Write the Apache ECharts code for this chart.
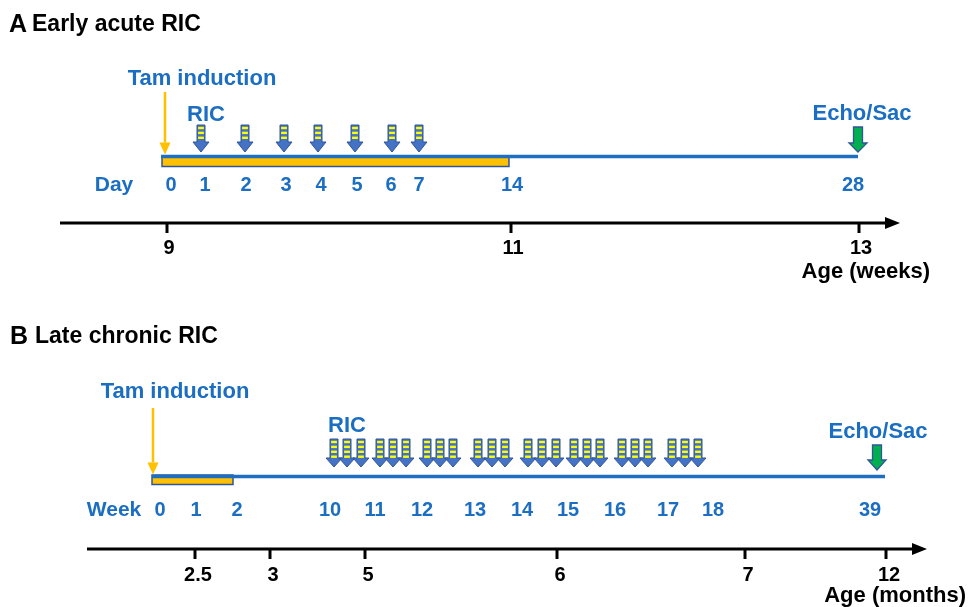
<!DOCTYPE html>
<html>
<head>
<meta charset="utf-8">
<script src="https://cdn.jsdelivr.net/npm/echarts/dist/echarts.min.js"></script>
<style>
html,body{margin:0;padding:0;background:#fff;}
#c{width:972px;height:607px;}
</style>
</head>
<body>
<div id="c"></div>
<script>
// ---------- DATA (positions along the schematic timeline, in timeline units) ----------
// Panel A: Early acute RIC
const dayLabels = ['0','1','2','3','4','5','6','7','14','28'];
const dayPos    = [171,205,246,286,321,357,391,419,512,853];
const ricDayPos = [201,245,284,318,355,392,419];
const ageWeekLabels = ['9','11','13'];
const ageWeekPos    = [167,511,859];
const tamSpanA   = [162,509];   // Tam period, day 0 - day 14
const timelineA  = [161,858];   // day 0 - day 28
const tamArrowA  = [165];
const echoA      = [858];

// Panel B: Late chronic RIC
const weekLabels = ['0','1','2','10','11','12','13','14','15','16','17','18','39'];
const weekPos    = [160,196,237,330,375,422,475,522,568,615,668,713,870];
const ricWeekPos = [334,347,361, 380,393,406, 427,440,453, 478,492,505,
                    528,542,556, 574,587,600, 622,635,648, 672,685,698];
const ageMonthLabels = ['2.5','3','5','6','7','12'];
const ageMonthPos    = [195,270,365,557,745,886];
const tamSpanB   = [152,233];   // Tam period, week 0 - week 2
const timelineB  = [152,885];   // week 0 - week 39
const tamArrowB  = [153];
const echoB      = [877];

// ---------- STYLE / LAYOUT ----------
const FONT = '"Liberation Sans", Arial, Helvetica, sans-serif';
const BLUE_TXT = '#1B6EC2';
const LINE_BLUE = '#1E6FC1';
const ARROW_FILL = '#4472C4';
const ARROW_EDGE = '#2F5597';
const YELLOW = '#FFFF00';
const ORANGE = '#FFC000';
const GREEN = '#00B050';

const LA = {line:156.5, rectTop:156, rectBot:166.5, tamTop:92, arrowTop:125, headStart:142, tip:152,
            shaftHalf:4, headHalf:8, rowY:185, axisY:223, axisX:[60,900], ageY:248,
            echoTop:127, echoHead:143, echoTip:152};
const LB = {line:476.5, rectTop:475, rectBot:484.5, tamTop:408, arrowTop:439, headStart:458, tip:467,
            shaftHalf:4, headHalf:8, rowY:510, axisY:549, axisX:[87,927], ageY:575,
            echoTop:445, echoHead:460, echoTip:470};

const notes = [
  {t:'A', x:9, y:25, c:'#000', s:25, a:'left'},
  {t:'Early acute RIC', x:32, y:25, c:'#000', s:23, a:'left'},
  {t:'Tam induction', x:202, y:79, c:BLUE_TXT, s:22},
  {t:'RIC', x:206, y:115, c:BLUE_TXT, s:22},
  {t:'Echo/Sac', x:862, y:114, c:BLUE_TXT, s:22},
  {t:'Day', x:114, y:185, c:BLUE_TXT, s:21},
  {t:'Age (weeks)', x:930, y:272, c:'#000', s:22, a:'right'},
  {t:'B', x:10, y:337, c:'#000', s:25, a:'left'},
  {t:'Late chronic RIC', x:35, y:337, c:'#000', s:23, a:'left'},
  {t:'Tam induction', x:175, y:392, c:BLUE_TXT, s:22},
  {t:'RIC', x:347, y:426, c:BLUE_TXT, s:22},
  {t:'Echo/Sac', x:878, y:432, c:BLUE_TXT, s:22},
  {t:'Week', x:114, y:510, c:BLUE_TXT, s:21},
  {t:'Age (months)', x:966, y:596, c:'#000', s:22, a:'right'}
];

// ---------- helpers ----------
function txt(p, text, color, size, align) {
  return {type:'text', style:{text:text, x:p[0], y:p[1], fill:color,
    fontSize:size, fontWeight:'bold', fontFamily:FONT,
    align:align||'center', verticalAlign:'middle'}};
}

function labelRow(labels, pos, y, color, size, dx) {
  return {type:'custom', coordinateSystem:'cartesian2d', silent:true,
    data: pos.map(p => [p, y]),
    renderItem: (params, api) => {
      const p = api.coord([api.value(0) + (dx||0), api.value(1)]);
      return txt(p, labels[params.dataIndex], color, size);
    }};
}

function ricArrows(pos, L) {
  return {type:'custom', coordinateSystem:'cartesian2d', silent:true,
    data: pos.map(p => [p, L.tip]),
    renderItem: (params, api) => {
      const c = api.value(0);
      const P = (x, y) => api.coord([x, y]);
      const sh = L.shaftHalf, hh = L.headHalf;
      const pts = [P(c-sh,L.arrowTop),P(c+sh,L.arrowTop),P(c+sh,L.headStart),P(c+hh,L.headStart),
                   P(c,L.tip),P(c-hh,L.headStart),P(c-sh,L.headStart)];
      const children = [{type:'polygon', shape:{points:pts},
        style:{fill:ARROW_FILL, stroke:ARROW_EDGE, lineWidth:1}}];
      for (let y0 = L.arrowTop + 1.8; y0 + 2.4 <= L.headStart + 0.5; y0 += 4.9) {
        const a = P(c-sh+1.1, y0), b = P(c+sh-1.1, y0+2.4);
        children.push({type:'rect', shape:{x:a[0], y:a[1], width:b[0]-a[0], height:b[1]-a[1]},
          style:{fill:YELLOW}});
      }
      return {type:'group', children};
    }};
}

function echoArrow(pos, L) {
  return {type:'custom', coordinateSystem:'cartesian2d', silent:true,
    data: pos.map(p => [p, L.echoTip]),
    renderItem: (params, api) => {
      const c = api.value(0);
      const P = (x, y) => api.coord([x, y]);
      const pts = [P(c-4.5,L.echoTop),P(c+4.5,L.echoTop),P(c+4.5,L.echoHead),P(c+9,L.echoHead),
                   P(c,L.echoTip),P(c-9,L.echoHead),P(c-4.5,L.echoHead)];
      return {type:'polygon', shape:{points:pts}, style:{fill:GREEN, stroke:ARROW_EDGE, lineWidth:1.3}};
    }};
}

function tamArrow(pos, L) {
  return {type:'custom', coordinateSystem:'cartesian2d', silent:true,
    data: pos.map(p => [p, L.tip]),
    renderItem: (params, api) => {
      const c = api.value(0);
      const P = (x, y) => api.coord([x, y]);
      const top = P(c, L.tamTop), hs = P(c, L.line - 14);
      const tip = P(c, L.line - 2);
      return {type:'group', children:[
        {type:'line', shape:{x1:top[0],y1:top[1],x2:hs[0],y2:hs[1]}, style:{stroke:ORANGE, lineWidth:2.5}},
        {type:'polygon', shape:{points:[P(c-5.5, L.line-14), P(c+5.5, L.line-14), tip]}, style:{fill:ORANGE}}
      ]};
    }};
}

function timeline(span, tam, L) {
  return {type:'custom', coordinateSystem:'cartesian2d', silent:true,
    data: [[span[0], L.line]],
    renderItem: (params, api) => {
      const P = (x, y) => api.coord([x, y]);
      const r0 = P(tam[0], L.rectTop), r1 = P(tam[1], L.rectBot);
      const l0 = P(span[0], L.line), l1 = P(span[1], L.line);
      return {type:'group', children:[
        {type:'rect', shape:{x:r0[0], y:r0[1], width:r1[0]-r0[0], height:r1[1]-r0[1]},
          style:{fill:ORANGE, stroke:ARROW_EDGE, lineWidth:1.5}},
        {type:'line', shape:{x1:l0[0],y1:l0[1],x2:l1[0],y2:l1[1]}, style:{stroke:LINE_BLUE, lineWidth:3.5}}
      ]};
    }};
}

function ageAxis(tickPos, L) {
  return {type:'custom', coordinateSystem:'cartesian2d', silent:true,
    data: tickPos.map(p => [p, L.axisY]),
    renderItem: (params, api) => {
      const P = (x, y) => api.coord([x, y]);
      const c = api.value(0);
      const children = [];
      const t0 = P(c, L.axisY), t1 = P(c, L.axisY + 10);
      children.push({type:'line', shape:{x1:t0[0],y1:t0[1],x2:t1[0],y2:t1[1]}, style:{stroke:'#000', lineWidth:3}});
      if (params.dataIndex === 0) {
        const x0 = L.axisX[0], x1 = L.axisX[1];
        const a = P(x0, L.axisY), b = P(x1 - 12, L.axisY);
        children.push({type:'line', shape:{x1:a[0],y1:a[1],x2:b[0],y2:b[1]}, style:{stroke:'#000', lineWidth:3.2}});
        children.push({type:'polygon', shape:{points:[P(x1, L.axisY), P(x1-15, L.axisY-6), P(x1-15, L.axisY+6)]},
          style:{fill:'#000'}});
      }
      return {type:'group', children};
    }};
}

const noteSeries = {type:'custom', coordinateSystem:'cartesian2d', silent:true,
  data: notes.map(n => [n.x, n.y]),
  renderItem: (params, api) => {
    const n = notes[params.dataIndex];
    return txt(api.coord([api.value(0), api.value(1)]), n.t, n.c, n.s, n.a);
  }};

const chart = echarts.init(document.getElementById('c'), null, {renderer:'canvas'});
chart.setOption({
  animation:false,
  backgroundColor:'#fff',
  grid:{left:0, right:0, top:0, bottom:0},
  xAxis:{type:'value', min:0, max:972, show:false},
  yAxis:{type:'value', min:0, max:607, inverse:true, show:false},
  series:[
    timeline(timelineA, tamSpanA, LA),
    timeline(timelineB, tamSpanB, LB),
    tamArrow(tamArrowA, LA),
    tamArrow(tamArrowB, LB),
    ricArrows(ricDayPos, LA),
    ricArrows(ricWeekPos, LB),
    echoArrow(echoA, LA),
    echoArrow(echoB, LB),
    ageAxis(ageWeekPos, LA),
    ageAxis(ageMonthPos, LB),
    labelRow(dayLabels, dayPos, LA.rowY, BLUE_TXT, 20, 0),
    labelRow(weekLabels, weekPos, LB.rowY, BLUE_TXT, 20, 0),
    labelRow(ageWeekLabels, ageWeekPos, LA.ageY, '#000', 20, 2),
    labelRow(ageMonthLabels, ageMonthPos, LB.ageY, '#000', 20, 3),
    noteSeries
  ]
});
</script>
</body>
</html>
